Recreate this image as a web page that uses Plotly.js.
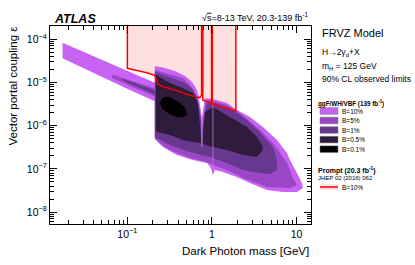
<!DOCTYPE html>
<html><head><meta charset="utf-8">
<script src="https://cdn.plot.ly/plotly-3.0.1.min.js"></script>
<style>html,body{margin:0;padding:0;background:#fff;}#chart{width:415px;height:265px;}</style>
</head><body><div id="chart"></div>
<script>
// ---- data (mass in GeV, epsilon) ----
const bandB10Mass = [0.0171, 0.0300, 0.0473, 0.0745, 0.107, 0.1406, 0.1846, 0.225, 0.225, 0.1846, 0.1406, 0.107, 0.0745, 0.0473, 0.0300, 0.0171];
const bandB10Eps  = [8.34e-5, 5.14e-5, 3.48e-5, 2.34e-5, 1.72e-5, 1.36e-5, 1.08e-5, 9.3e-6, 3.5e-6, 4.08e-6, 5.24e-6, 6.70e-6, 9.37e-6, 1.43e-5, 2.17e-5, 3.63e-5];
const bandB5Mass = [0.0656, 0.2115, 0.2115, 0.0656];
const bandB5Eps  = [1.53e-5, 7.26e-6, 4.74e-6, 1.27e-5];
const bandB1Mass = [0.0861, 0.2115, 0.2115, 0.0909];
const bandB1Eps  = [1.24e-5, 6.53e-6, 5.27e-6, 1.08e-5];

const mainB10Mass = [0.2115, 0.2778, 0.3648, 0.4792, 0.5495, 0.5957, 0.6645, 0.7016, 0.762, 0.8263, 1.0276, 1.505, 1.977, 2.817, 4.013, 5.876, 7.72, 8.377, 10.14, 11.61, 11.94, 10.14, 6.921, 4.477, 2.817, 1.977, 1.349, 1.085, 1.0276, 0.973, 0.873, 0.5957, 0.3853, 0.263, 0.2296, 0.2115];
const mainB10Eps  = [2.41e-5, 2.17e-5, 1.85e-5, 1.41e-5, 1.14e-5, 9.74e-6, 6.70e-6, 4.62e-6, 1.51e-6, 4.38e-6, 4.15e-6, 3.35e-6, 2.31e-6, 1.59e-6, 9.33e-7, 4.67e-7, 2.33e-7, 1.61e-7, 8.04e-8, 4.72e-8, 3.61e-8, 2.92e-8, 2.92e-8, 3.25e-8, 4.72e-8, 6.49e-8, 8.48e-8, 9.44e-8, 7.23e-8, 1.05e-7, 1.37e-7, 1.61e-7, 2.10e-7, 3.21e-7, 4.20e-7, 5.19e-7];

const mainB5Mass = [0.2115, 0.3184, 0.4536, 0.5495, 0.6293, 0.7016, 0.762, 0.8492, 0.947, 1.505, 2.145, 3.698, 5.272, 6.921, 7.72, 9.09, 10.14, 8.377, 4.477, 2.328, 1.505, 1.0276, 0.947, 0.5495, 0.3184, 0.2425, 0.2234, 0.2115];
const mainB5Eps  = [1.95e-5, 1.57e-5, 1.27e-5, 8.75e-6, 5.71e-6, 2.86e-6, 1.04e-6, 3.73e-6, 3.94e-6, 3.01e-6, 1.97e-6, 7.95e-7, 3.98e-7, 1.88e-7, 1.37e-7, 6.16e-8, 4.24e-8, 3.61e-8, 3.81e-8, 6.16e-8, 9.44e-8, 1.23e-7, 1.37e-7, 1.79e-7, 2.74e-7, 3.98e-7, 4.67e-7, 4.92e-7];

const mainB1Mass = [0.2115, 0.3184, 0.4536, 0.58, 0.6645, 0.7211, 0.762, 0.873, 1.0, 1.633, 2.594, 3.698, 5.272, 5.876, 5.876, 4.856, 3.698, 2.328, 1.505, 0.947, 0.5495, 0.3184, 0.2425, 0.2115];
const mainB1Eps  = [1.75e-5, 1.34e-5, 1.03e-5, 7.46e-6, 4.62e-6, 2.07e-6, 7.14e-7, 3.18e-6, 3.54e-6, 2.57e-6, 1.35e-6, 7.14e-7, 3.21e-7, 1.61e-7, 9.44e-8, 7.62e-8, 8.04e-8, 9.44e-8, 1.37e-7, 1.88e-7, 2.46e-7, 3.57e-7, 4.67e-7, 5.47e-7];

const mainB05Mass = [0.2175, 0.3184, 0.4536, 0.5957, 0.683, 0.7211, 0.762, 0.8263, 1.0276, 1.633, 2.594, 3.409, 3.906, 4.013, 3.409, 2.328, 1.505, 1.0276, 0.7211, 0.4536, 0.3184, 0.2296, 0.2175];
const mainB05Eps  = [1.49e-5, 9.74e-6, 7.46e-6, 5.71e-6, 3.35e-6, 1.04e-6, 3.21e-7, 2.07e-6, 2.71e-6, 1.59e-6, 9.33e-7, 5.47e-7, 3.57e-7, 2.74e-7, 1.88e-7, 2.10e-7, 2.74e-7, 3.21e-7, 3.98e-7, 4.67e-7, 6.09e-7, 7.14e-7, 7.95e-7];

const mainB01Mass = [0.2425, 0.263, 0.3015, 0.3455, 0.4181, 0.4792, 0.506, 0.4663, 0.396, 0.3015, 0.2561];
const mainB01Eps  = [3.35e-6, 4.38e-6, 4.62e-6, 4.15e-6, 3.35e-6, 2.57e-6, 1.87e-6, 1.59e-6, 1.59e-6, 1.97e-6, 2.57e-6];

const omegaMass = [0.762, 0.762];
const omegaEps  = [1.35e-6, 3.21e-7];
const phiMass = [1.0276, 1.0276];
const phiEps  = [3.94e-6, 8.04e-8];

const promptMass = [0.1, 0.1, 0.123, 0.147, 0.175, 0.212, 0.222, 0.23, 0.263, 0.318, 0.396, 0.502, 0.629, 0.72, 0.755, 0.755, 0.78, 0.78, 0.947, 0.99, 0.99, 1.01, 1.01, 1.244, 1.493, 1.92, 1.92];
const promptEps  = [1e-3, 2.13e-5, 1.95e-5, 1.78e-5, 1.66e-5, 1.44e-5, 1.04e-5, 9.2e-6, 8.0e-6, 7.3e-6, 6.4e-6, 5.3e-6, 4.7e-6, 4.45e-6, 5.1e-6, 1e-3, 1e-3, 3.94e-6, 3.41e-6, 3.3e-6, 1e-3, 1e-3, 3.13e-6, 2.75e-6, 2.53e-6, 2.19e-6, 1e-3];

const legendLabels = ['B=10%', 'B=5%', 'B=1%', 'B=0.5%', 'B=0.1%'];
const xTickVals = [0.1, 1, 10];
const xTickText = ['10<sup>−1</sup>', '1', '10'];
const yTickVals = [1e-8, 1e-7, 1e-6, 1e-5, 1e-4];
const yTickText = ['10<sup>−8</sup>', '10<sup>−7</sup>', '10<sup>−6</sup>', '10<sup>−5</sup>', '10<sup>−4</sup>'];

// ---- styles ----
const C10 = '#c963f5', C5 = '#9a47c6', C1 = '#68378f', C05 = '#2f1b3b', C01 = '#000000';
const colors = [C10, C5, C1, C05, C01];
const FONT = '"Liberation Sans", Arial, Helvetica, sans-serif';

function poly(x, y, color, spline) {
  return {x: x, y: y, type: 'scatter', mode: 'lines', fill: 'toself', fillcolor: color,
    line: {width: 0, color: color, shape: spline ? 'spline' : 'linear'}, hoverinfo: 'skip', showlegend: false};
}
const pinkX = promptMass.concat([promptMass[0]]);
const pinkY = promptEps.concat([promptEps[0]]);

const traces = [
  poly(pinkX, pinkY, 'rgba(255,0,0,0.12)'),
  poly(bandB10Mass, bandB10Eps, C10),
  poly(mainB10Mass, mainB10Eps, C10),
  poly(bandB5Mass, bandB5Eps, C5),
  poly(mainB5Mass, mainB5Eps, C5),
  poly(bandB1Mass, bandB1Eps, C1),
  poly(mainB1Mass, mainB1Eps, C1),
  poly(mainB05Mass, mainB05Eps, C05),
  poly(mainB01Mass, mainB01Eps, C01, true),
  {x: omegaMass, y: omegaEps, type: 'scatter', mode: 'lines', line: {color: '#b77fd9', width: 1.2}, hoverinfo: 'skip', showlegend: false},
  {x: phiMass, y: phiEps, type: 'scatter', mode: 'lines', line: {color: '#b77fd9', width: 0.8}, hoverinfo: 'skip', showlegend: false},
  {x: promptMass, y: promptEps, type: 'scatter', mode: 'lines', line: {color: '#ff0000', width: 1.5}, hoverinfo: 'skip', showlegend: false}
];

// minor tick positions
const xMinor = [], yMinor = [];
for (let e = -2; e <= 1; e++) for (let k = 2; k <= 9; k++) xMinor.push(k * Math.pow(10, e));
for (let e = -9; e <= -4; e++) for (let k = 2; k <= 9; k++) yMinor.push(k * Math.pow(10, e));

// plot geometry (pixels)
const L = 50, R = 311, T = 26, B = 224;
const W = R - L, H = B - T;
const PX = p => (p - L) / W;
const PY = p => (B - p) / H;

const ann = [];
function txt(text, x, y, size, xanchor, extra) {
  ann.push(Object.assign({text: text, x: PX(x), y: PY(y), xref: 'paper', yref: 'paper', xanchor: xanchor || 'left', yanchor: 'middle',
    showarrow: false, font: {family: FONT, size: size, color: '#000'}}, extra || {}));
}
txt('<b><i>ATLAS</i></b>', 52, 19, 12.5);
txt('√<span style="text-decoration:overline">s</span>=8-13 TeV, 20.3-139 fb<sup>-1</sup>', 310, 17, 9, 'right');
txt('FRVZ Model', 320, 33.5, 11);
txt('H→2γ<sub>d</sub>+X', 320, 52.5, 8.5);
txt('m<sub>H</sub> = 125 GeV', 320, 66.5, 8.5);
txt('90% CL observed limits', 320, 79, 8.5);
txt('<b>ggF/WH/VBF (139 fb<sup>-1</sup>)</b>', 316, 103.5, 6.3);
const legY = [111, 120.5, 130, 139.6, 149.2];
const shapes = [];
legendLabels.forEach((lab, i) => {
  txt(lab, 340, legY[i], 6.5);
  shapes.push({type: 'rect', xref: 'paper', yref: 'paper', x0: PX(320), x1: PX(338), y0: PY(legY[i] - 3.3), y1: PY(legY[i] + 3.3),
    fillcolor: colors[i], line: {color: '#777', width: 0.5}});
});
txt('<b>Prompt (20.3 fb<sup>-1</sup>)</b>', 316, 170, 7);
txt('JHEP 02 (2016) 062', 316, 177.5, 6);
txt('B=10%', 340, 187.2, 6.5);
shapes.push({type: 'rect', xref: 'paper', yref: 'paper', x0: PX(320), x1: PX(338), y0: PY(184.3), y1: PY(190),
  fillcolor: 'rgba(255,0,0,0.12)', line: {width: 0}});
shapes.push({type: 'line', xref: 'paper', yref: 'paper', x0: PX(320), x1: PX(338), y0: PY(187), y1: PY(187),
  line: {color: '#ff0000', width: 1.5}});
txt('Vector portal coupling ε', 12, 25, 11.5, 'center', {textangle: -90, yanchor: 'top'});
txt('Dark Photon mass [GeV]', 311, 251, 11.5, 'right');

const axisCommon = {type: 'log', showgrid: false, zeroline: false, showline: true, linecolor: '#000', linewidth: 1,
  mirror: 'ticks', ticks: 'inside', ticklen: 7, tickcolor: '#000', tickwidth: 1,
  tickfont: {family: FONT, size: 10.5, color: '#000'}, tickmode: 'array'};

const layout = {
  width: 415, height: 265, margin: {l: L, r: 415 - R, t: T, b: 265 - B, pad: 0},
  paper_bgcolor: '#fff', plot_bgcolor: '#fff', showlegend: false,
  xaxis: Object.assign({}, axisCommon, {range: [Math.log10(0.01217), Math.log10(14.85)], tickvals: xTickVals, ticktext: xTickText,
    minor: {tickmode: 'array', tickvals: xMinor, ticks: 'inside', ticklen: 4, tickcolor: '#000', showgrid: false}}),
  yaxis: Object.assign({}, axisCommon, {range: [Math.log10(5.3e-9), Math.log10(2.03e-4)], tickvals: yTickVals, ticktext: yTickText,
    minor: {tickmode: 'array', tickvals: yMinor, ticks: 'inside', ticklen: 4, tickcolor: '#000', showgrid: false}}),
  annotations: ann, shapes: shapes
};
Plotly.newPlot('chart', traces, layout, {staticPlot: true, displayModeBar: false});
</script></body></html>
